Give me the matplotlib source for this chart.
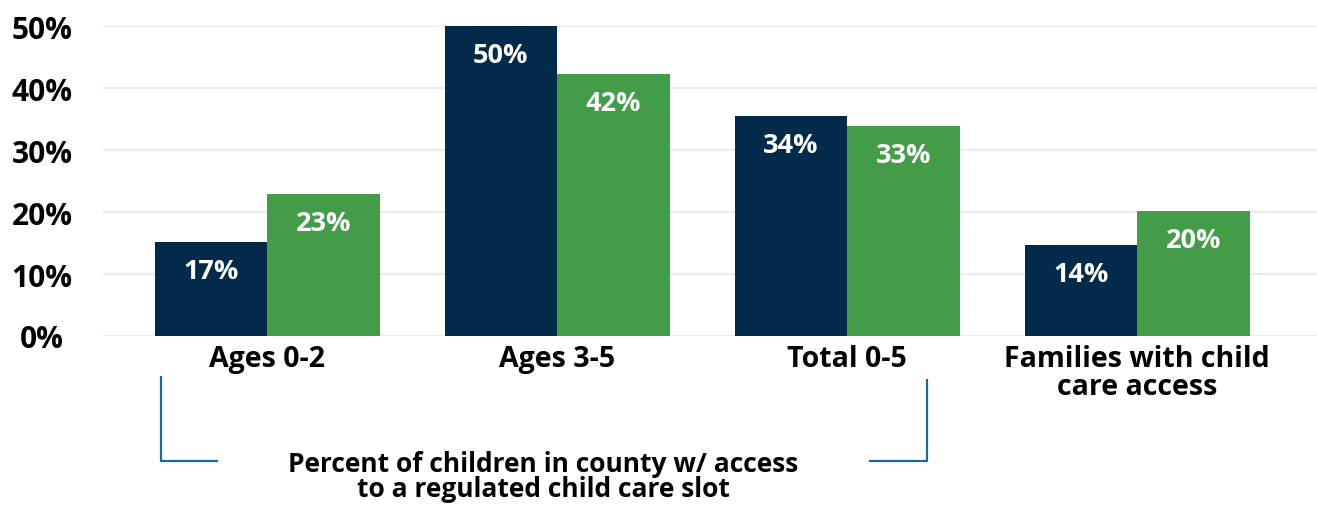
# -*- coding: utf-8 -*-
"""
Child care access bar chart
"""

import matplotlib.pyplot as plt
from matplotlib.transforms import blended_transform_factory
import numpy as np

categories = ['Ages 0-2', 'Ages 3-5', 'Total 0-5', 'Families with child\ncare access']
navy_vals = [15.2, 50.0, 35.5, 14.7]
green_vals = [22.9, 42.3, 33.9, 20.2]
navy_labels = ['17%', '50%', '34%', '14%']
green_labels = ['23%', '42%', '33%', '20%']
yticks = [0, 10, 20, 30, 40, 50]
caption = 'Percent of children in county w/ access\nto a regulated child care slot'

NAVY = '#022B4B'
GREEN = '#439C47'
BRACKET = '#1B6A9E'

plt.rcParams['font.family'] = ['Open Sans', 'DejaVu Sans']
plt.rcParams['font.weight'] = 'bold'

fig = plt.figure(figsize=(13.17, 5.06), dpi=100)
ax = fig.add_axes([0.0782, 0.334, 0.9218, 0.6126])

x = np.arange(len(categories))
w = 0.388
b1 = ax.bar(x - w / 2, navy_vals, w, color=NAVY, zorder=3)
b2 = ax.bar(x + w / 2, green_vals, w, color=GREEN, zorder=3)

for bars, labs in ((b1, navy_labels), (b2, green_labels)):
    for r, lab in zip(bars, labs):
        ax.annotate(lab, (r.get_x() + r.get_width() / 2, r.get_height()),
                    xytext=(0, -21), textcoords='offset points',
                    ha='center', va='center', color='white',
                    fontsize=19.5, fontweight='bold', zorder=4)

ax.set_xlim(-0.566, 3.62)
ax.set_ylim(0, 50)
ax.set_yticks(yticks)
ax.set_yticklabels([f'{v}%' for v in yticks])
ax.set_xticks(x)
ax.set_xticklabels(categories)
ax.tick_params(axis='y', length=0, pad=44, labelsize=21.5)
ax.tick_params(axis='x', length=0, pad=6, labelsize=20.5)
for lab in ax.get_yticklabels():
    lab.set_ha('center')
    lab.set_fontweight('bold')
for lab in ax.get_xticklabels():
    lab.set_fontweight('bold')
    lab.set_linespacing(0.92)

ax.grid(axis='y', color='#EBEBEB', lw=1.6, zorder=0)
for s in ax.spines.values():
    s.set_visible(False)

# bracket under the first three groups
tr = blended_transform_factory(ax.transData, fig.transFigure)
ax.plot([-0.366, -0.366, -0.173], [0.253, 0.087, 0.087], color=BRACKET,
        lw=1.6, transform=tr, clip_on=False)
ax.plot([2.276, 2.276, 2.080], [0.247, 0.087, 0.087], color=BRACKET,
        lw=1.6, transform=tr, clip_on=False)
ax.text(0.952, 0.057, caption, transform=tr, ha='center', va='center',
        fontsize=19, fontweight='bold', linespacing=0.92)

plt.savefig('out.png')
